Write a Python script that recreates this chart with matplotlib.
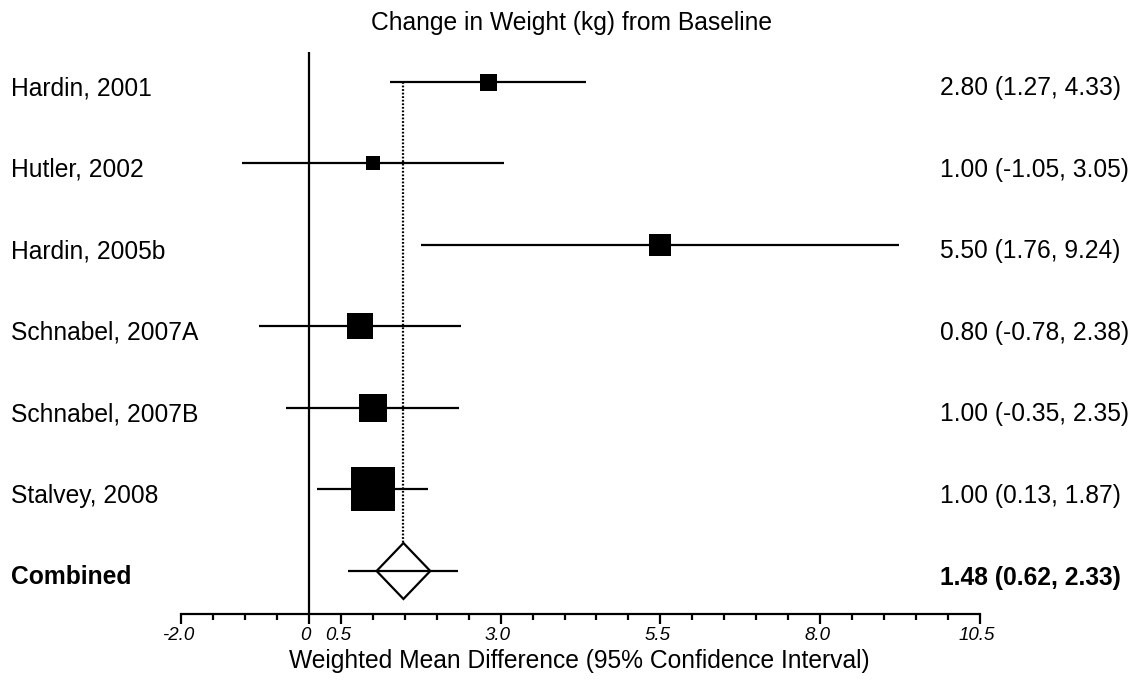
import matplotlib
matplotlib.use("Agg")
import matplotlib.pyplot as plt
import matplotlib.transforms as mtransforms
import numpy as np

# ---- data ----
studies = ["Hardin, 2001", "Hutler, 2002", "Hardin, 2005b", "Schnabel, 2007A",
           "Schnabel, 2007B", "Stalvey, 2008"]
estimates = [2.80, 1.00, 5.50, 0.80, 1.00, 1.00]
ci_low = [1.27, -1.05, 1.76, -0.78, -0.35, 0.13]
ci_high = [4.33, 3.05, 9.24, 2.38, 2.35, 1.87]
combined_label = "Combined"
combined_est = 1.48
combined_low = 0.62
combined_high = 2.33
tick_labels = {-2.0: "-2.0", 0.0: "0", 0.5: "0.5", 3.0: "3.0", 5.5: "5.5",
               8.0: "8.0", 10.5: "10.5"}
title = "Change in Weight (kg) from Baseline"
xlabel = "Weighted Mean Difference (95% Confidence Interval)"

# ---- styles ----
box_px = [17, 14, 23, 26, 28, 44]          # marker widths in pixels
diamond_halfwidth = 0.42                     # in x units
diamond_halfheight = 0.343                   # in row units
FONT = "Liberation Sans"
FS = 17.7

W, H, DPI = 1136, 681, 100
fig = plt.figure(figsize=(W / DPI, H / DPI), dpi=DPI)
left_px, right_px, top_px, bottom_px = 181, 980, 52, 613.5
ax = fig.add_axes([left_px / W, 1 - bottom_px / H, (right_px - left_px) / W,
                   (bottom_px - top_px) / H])
row0_px, row_step_px = 81.7, 81.55
ax.set_xlim(-2.0, 10.5)
ax.set_ylim((bottom_px - row0_px) / row_step_px, (top_px - row0_px) / row_step_px)
ax.set_facecolor("none")
for s in ["top", "right", "left"]:
    ax.spines[s].set_visible(False)
ax.spines["bottom"].set_linewidth(1.6)
ax.set_yticks([])

# ticks
ax.set_xticks(list(tick_labels.keys()))
ax.set_xticklabels(list(tick_labels.values()), fontstyle="italic",
                   fontsize=13.5, family=FONT)
ax.set_xticks(np.arange(-2.0, 10.51, 0.5), minor=True)
ax.tick_params(axis="x", which="major", direction="out", length=7, width=1.6, pad=3)
ax.tick_params(axis="x", which="minor", direction="out", length=4, width=1.6)
for lbl in ax.get_xticklabels():
    lbl.set_transform(lbl.get_transform() + mtransforms.ScaledTranslation(-3 / DPI, 0, fig.dpi_scale_trans))

# zero line
ax.axvline(0, color="black", lw=1.6, zorder=2)

n = len(studies)
# dotted line at combined estimate
ax.plot([combined_est, combined_est], [0, n - diamond_halfheight], color="black",
        lw=1.6, linestyle=(0, (0.8, 0.8)), zorder=1)

for i in range(n):
    ax.plot([ci_low[i], ci_high[i]], [i, i], color="black", lw=1.6, zorder=3,
            solid_capstyle="butt")
    ax.plot(estimates[i], i, marker="s", color="black",
            markersize=box_px[i] * 72 / DPI, markeredgewidth=0, zorder=4)

# combined
yc = n
dx = [combined_est - diamond_halfwidth, combined_est, combined_est + diamond_halfwidth,
      combined_est, combined_est - diamond_halfwidth]
dy = [yc, yc - diamond_halfheight, yc, yc + diamond_halfheight, yc]
ax.fill(dx, dy, facecolor="white", edgecolor="black", lw=1.6, zorder=3,
        joinstyle="miter")
ax.plot([combined_low, combined_high], [yc, yc], color="black", lw=1.6, zorder=4,
        solid_capstyle="butt")

# texts
blend = mtransforms.blended_transform_factory(fig.transFigure, ax.transData)
base_off = 13.5 / row_step_px
for i in range(n):
    ax.text(11 / W, i + base_off, studies[i], transform=blend, ha="left",
            va="baseline", fontsize=FS, family=FONT)
    ax.text(940 / W, i + base_off,
            f"{estimates[i]:.2f} ({ci_low[i]:.2f}, {ci_high[i]:.2f})",
            transform=blend, ha="left", va="baseline", fontsize=FS, family=FONT)
ax.text(11 / W, yc + base_off, combined_label, transform=blend, ha="left",
        va="baseline", fontsize=FS, family=FONT, fontweight="bold")
ax.text(940 / W, yc + base_off,
        f"{combined_est:.2f} ({combined_low:.2f}, {combined_high:.2f})",
        transform=blend, ha="left", va="baseline", fontsize=FS, family=FONT,
        fontweight="bold")

fig.text(571.5 / W, 1 - 23 / H, title, ha="center", va="center", fontsize=FS,
         family=FONT)
fig.text(579.5 / W, 1 - 661 / H, xlabel, ha="center", va="center", fontsize=FS,
         family=FONT)

fig.savefig("out.png", dpi=DPI, facecolor="white")
